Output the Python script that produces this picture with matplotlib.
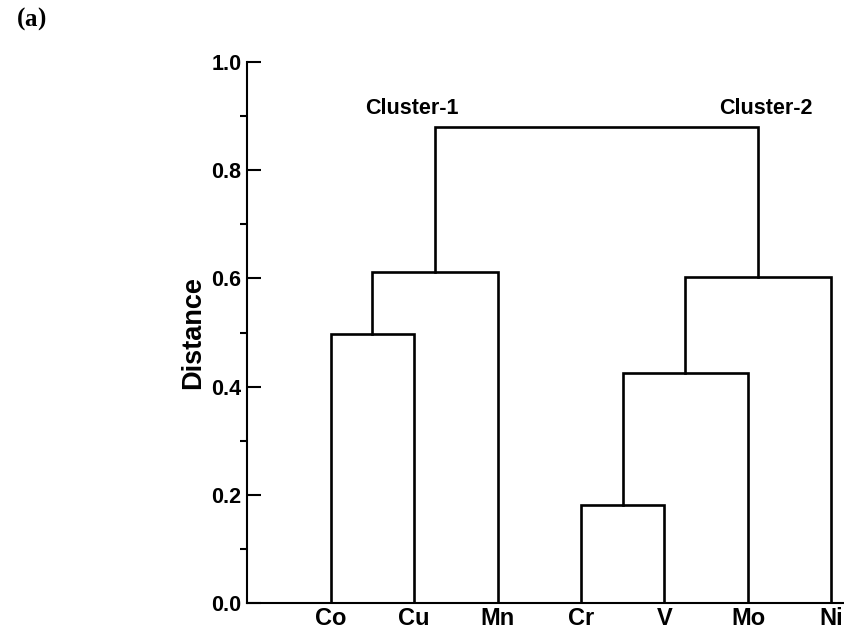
import matplotlib.pyplot as plt

# leaves in display order
leaves = ['Co', 'Cu', 'Mn', 'Cr', 'V', 'Mo', 'Ni']
# merges: (left node, right node, distance); new nodes numbered after the leaves
merges = [
    (0, 1, 0.497),   # Co + Cu      -> node 7
    (7, 2, 0.612),   # + Mn         -> node 8
    (3, 4, 0.181),   # Cr + V       -> node 9
    (9, 5, 0.425),   # + Mo         -> node 10
    (10, 6, 0.602),  # + Ni         -> node 11
    (8, 11, 0.880),  # top          -> node 12
]
cluster_names = ['Cluster-1', 'Cluster-2']
cluster_pos = [(1.97, 0.915), (6.21, 0.915)]

plt.rcParams['font.family'] = ['Liberation Sans', 'DejaVu Sans']
plt.rcParams['font.weight'] = 'bold'

fig = plt.figure(figsize=(8.44, 6.29), dpi=100)
ax = fig.add_axes([0.2927, 0.0413, 0.7073, 0.8601])

# node x positions and heights
xs = [i + 1 for i in range(len(leaves))]
hs = [0.0] * len(leaves)
for a, b, d in merges:
    ax.plot([xs[a], xs[a], xs[b], xs[b]], [hs[a], d, d, hs[b]],
            color='black', lw=1.9, solid_joinstyle='miter')
    xs.append((xs[a] + xs[b]) / 2)
    hs.append(d)

for name, (x, y) in zip(cluster_names, cluster_pos):
    ax.text(x, y, name, ha='center', va='center', fontsize=15.5, fontweight='bold')

ax.set_xlim(0, 7.15)
ax.set_ylim(0, 1.0)
ax.set_xticks(range(1, len(leaves) + 1))
ax.set_xticklabels(leaves, fontsize=17, fontweight='bold')
ax.tick_params(axis='x', length=0, pad=3)
ax.set_yticks([0.0, 0.2, 0.4, 0.6, 0.8, 1.0])
ax.set_yticklabels(['0.0', '0.2', '0.4', '0.6', '0.8', '1.0'], fontsize=15.5, fontweight='bold')
ax.set_yticks([0.1, 0.3, 0.5, 0.7, 0.9], minor=True)
ax.tick_params(axis='y', which='major', direction='in', length=10, width=1.5, pad=4)
ax.tick_params(axis='y', which='minor', direction='out', length=5, width=1.5)
ax.set_ylabel('Distance', fontsize=19.5, fontweight='bold', labelpad=4)

for s in ['top', 'right']:
    ax.spines[s].set_visible(False)
for s in ['left', 'bottom']:
    ax.spines[s].set_linewidth(1.5)

fig.text(0.020, 0.969, '(', fontsize=18, family='Liberation Serif', va='center', ha='left')
fig.text(0.029, 0.969, 'a', fontsize=18, family='Liberation Serif', fontweight='bold', va='center', ha='left')
fig.text(0.0445, 0.969, ')', fontsize=18, family='Liberation Serif', va='center', ha='left')

fig.savefig('out.png', dpi=100)
